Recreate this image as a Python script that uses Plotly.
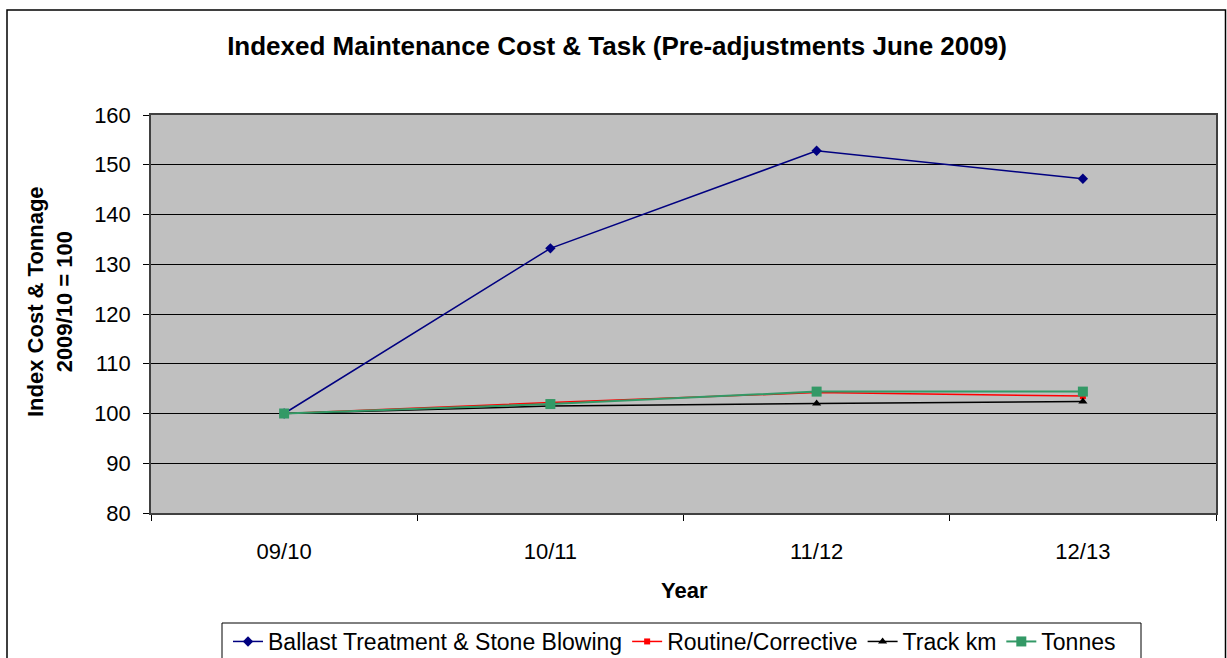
import plotly.graph_objects as go

years = ["09/10", "10/11", "11/12", "12/13"]
ballast = [100, 133.2, 152.8, 147.2]
routine = [100, 102.2, 104.2, 103.5]
track_km = [100, 101.5, 102.0, 102.4]
tonnes = [100, 101.9, 104.4, 104.4]

series = [
    ("Ballast Treatment & Stone Blowing", ballast, "#000080", "diamond", 8, 1.5),
    ("Routine/Corrective", routine, "#FF0000", "square", 6, 1.5),
    ("Track km", track_km, "#000000", "triangle-up", 8, 1.5),
    ("Tonnes", tonnes, "#339966", "square", 10, 2),
]

fig = go.Figure()
for name, vals, color, sym, size, lw in series:
    fig.add_trace(go.Scatter(
        x=years, y=vals, name=name, mode="lines+markers",
        line=dict(color=color, width=lw),
        marker=dict(color=color, symbol=sym, size=size),
    ))

W, H = 1227, 658
L, R, T, B = 151, 11, 115, 145
pw, ph = W - L - R, H - T - B


def px(x):
    return (x - L) / pw


def py(y):
    return (H - B - y) / ph


FONT = "Arial, Liberation Sans, sans-serif"

fig.update_layout(
    width=W, height=H,
    margin=dict(l=L, r=R, t=T, b=B, autoexpand=False),
    paper_bgcolor="white",
    plot_bgcolor="#C0C0C0",
    font=dict(family=FONT, size=22, color="black"),
    title=dict(text="<b>Indexed Maintenance Cost & Task (Pre-adjustments June 2009)</b>",
               x=617 / W, xanchor="center", y=1 - 46 / H, yanchor="middle",
               font=dict(size=26)),
    showlegend=True,
    legend=dict(orientation="h", xref="container", yref="container",
                x=228 / W, xanchor="left", y=1 - 620 / H, yanchor="top",
                borderwidth=0, bgcolor="rgba(0,0,0,0)",
                font=dict(size=23), itemwidth=30, tracegroupgap=0),
    xaxis=dict(
        type="category", range=[-0.5, 3.5], automargin=False,
        showgrid=False, ticks="outside", tickson="boundaries", ticklen=6,
        tickcolor="black", showline=True, linecolor="#404040", mirror=True,
        linewidth=1.5, ticklabelstandoff=18,
        tickfont=dict(size=22),
    ),
    yaxis=dict(
        range=[80, 160], dtick=10, tick0=80, automargin=False,
        showgrid=True, gridcolor="black", gridwidth=1,
        ticks="outside", ticklen=6, tickcolor="black",
        showline=True, linecolor="#404040", mirror=True, linewidth=1.5,
        zeroline=False, ticklabelstandoff=8,
        tickfont=dict(size=22),
    ),
    annotations=[
        dict(text="<b>Year</b>", xref="paper", yref="paper",
             x=px(684), y=py(590), xanchor="center", yanchor="middle",
             showarrow=False, font=dict(size=22)),
        dict(text="<b>Index Cost & Tonnage<br>2009/10 = 100</b>", xref="paper", yref="paper",
             x=px(50), y=py(302), xanchor="center", yanchor="middle",
             textangle=-90, showarrow=False, font=dict(size=22)),
    ],
    shapes=[
        dict(type="rect", xref="paper", yref="paper",
             x0=px(7), x1=px(1225.5), y0=py(700), y1=py(10),
             line=dict(color="black", width=1.5), fillcolor="rgba(0,0,0,0)",
             layer="below"),
        dict(type="rect", xref="paper", yref="paper",
             x0=px(222), x1=px(1141), y0=py(700), y1=py(623),
             line=dict(color="black", width=1), fillcolor="rgba(0,0,0,0)",
             layer="below"),
    ],
)

fig.write_html("out.html")
